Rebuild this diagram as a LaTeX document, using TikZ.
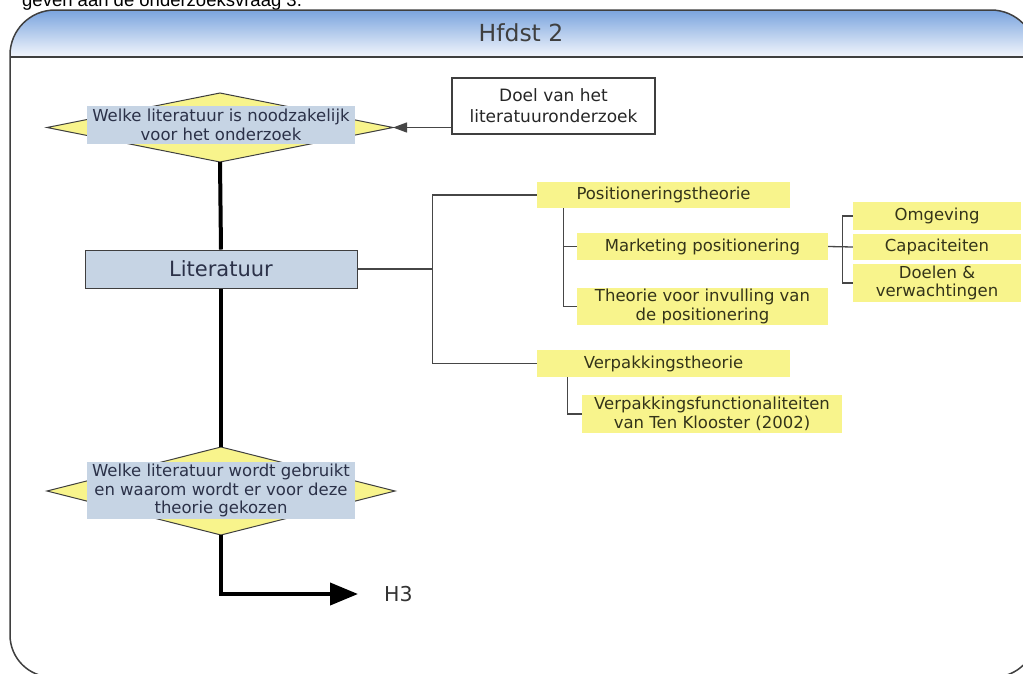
\documentclass[tikz,border=0pt]{standalone}
\usepackage{fontspec}
\setmainfont{DejaVu Sans}
\newfontfamily\pagefont{Liberation Sans}
\usetikzlibrary{shapes.geometric,arrows.meta,calc}
\definecolor{HfBlueTop}{HTML}{7AA4DE}
\definecolor{HfBlueMid}{HTML}{A9C3EA}
\definecolor{HfBlueBot}{HTML}{F3F6FC}
\definecolor{HfFrame}{HTML}{3F3F3F}
\definecolor{HfBox}{HTML}{C6D4E4}
\definecolor{HfYellow}{HTML}{F8F48C}
\definecolor{HfText}{HTML}{2B3148}
\definecolor{HfLeafText}{HTML}{34341A}
\definecolor{HfLine}{HTML}{464646}

\begin{document}
\begin{tikzpicture}[x=1pt,y=-1pt,
  question/.style={diamond,draw=HfFrame,line width=1pt,fill=HfYellow,inner sep=0pt,outer sep=0pt},
  qtext/.style={fill=HfBox,text=HfText,align=center,inner sep=0pt,font=\fontsize{16.5}{18.5}\selectfont},
  leaf/.style={fill=HfYellow,text=HfLeafText,align=center,inner sep=0pt,font=\fontsize{16.5}{18.5}\selectfont},
  tree/.style={HfLine,line width=1.3pt},
  spine/.style={black,line width=4pt}]
\path[use as bounding box] (0,0) rectangle (1023,673);
\node[anchor=base west,inner sep=0pt,font=\pagefont\fontsize{18.5}{22}\selectfont] (lead) at (22,6) {geven aan de onderzoeksvraag 3.};
% kader met kop
\shade[top color=HfBlueTop,middle color=HfBlueMid,bottom color=HfBlueBot]
  (10,57) -- (10,55) arc[start angle=180,end angle=270,radius=45] -- (991,10)
  arc[start angle=270,end angle=360,radius=45] -- (1036,57) -- cycle;
\draw[HfFrame,line width=1.5pt] (10,55) arc[start angle=180,end angle=270,radius=45] -- (991,10)
  arc[start angle=270,end angle=360,radius=45] -- (1036,635)
  arc[start angle=0,end angle=90,radius=42] -- (52,677)
  arc[start angle=90,end angle=180,radius=42] -- cycle;
\draw[HfFrame,line width=1.5pt] (10,57) -- (1036,57);
\node[text=HfFrame,font=\fontsize{23.5}{27}\selectfont] (title) at (521,33) {Hfdst 2};
% linker kolom
\node[question,minimum width=346pt,minimum height=69pt] (q1) at (220,127.5) {};
\node[qtext,minimum width=268pt,minimum height=38pt] (q1txt) at (221,125) {Welke literatuur is noodzakelijk\\voor het onderzoek};
\node[draw=HfFrame,line width=1.2pt,fill=white,text=black!85,align=center,inner sep=0pt,
  minimum width=203pt,minimum height=56pt,font=\fontsize{17}{21}\selectfont] (doel) at (553.5,106) {Doel van het\\literatuuronderzoek};
\node[draw=HfFrame,line width=1pt,fill=HfBox,text=HfText,minimum width=272pt,minimum height=38pt,
  font=\fontsize{21}{24}\selectfont] (lit) at (221,269) {Literatuur};
\node[question,minimum width=348pt,minimum height=88pt] (q2) at (221,491) {};
\node[qtext,minimum width=268pt,minimum height=57pt] (q2txt) at (221,490.5) {Welke literatuur wordt gebruikt\\en waarom wordt er voor deze\\theorie gekozen};
\node[anchor=west,inner sep=0pt,text=black!80,font=\fontsize{20.5}{24}\selectfont] (h3) at (384,594) {H3};
% theorieboom
\node[leaf,minimum width=253pt,minimum height=26pt] (pos) at (663.5,195) {Positioneringstheorie};
\node[leaf,minimum width=251pt,minimum height=27pt] (mark) at (702.5,246.5) {Marketing positionering};
\node[leaf,minimum width=251pt,minimum height=37pt] (theo) at (702.5,306.5) {Theorie voor invulling van\\de positionering};
\node[leaf,minimum width=168pt,minimum height=28pt] (omg) at (937,216) {Omgeving};
\node[leaf,minimum width=168pt,minimum height=26pt] (cap) at (937,247) {Capaciteiten};
\node[leaf,minimum width=168pt,minimum height=38pt] (doelen) at (937,283) {Doelen \&\\verwachtingen};
\node[leaf,minimum width=253pt,minimum height=27pt] (verp) at (663.5,363.5) {Verpakkingstheorie};
\node[leaf,minimum width=260pt,minimum height=38pt] (vpf) at (712,414) {Verpakkingsfunctionaliteiten\\van Ten Klooster (2002)};
% verbindingen
\draw[tree,-{Triangle[length=14pt,width=10pt]}] (doel.west |- q1.east) -- (q1.east);
\draw[spine] (q1.south) -- (lit.north);
\draw[spine] (lit.south) -- (q2.north);
\draw[spine,-{Triangle[length=28pt,width=22pt]},shorten >=26pt] (q2.south) |- (h3.west);
\coordinate (litfork) at ($(lit.east)+(75,0)$);
\draw[tree] (lit.east) -- (litfork);
\draw[tree] (pos.west) -| (litfork) |- (verp.west);
\coordinate (posfork) at ($(pos.south west)+(27,0)$);
\draw[tree] (posfork) |- (theo.west);
\draw[tree] (mark.west) -- (mark.west -| posfork);
\coordinate (verpfork) at ($(verp.south west)+(31,0)$);
\draw[tree] (verpfork) |- (vpf.west);
\coordinate (markfork) at ($(mark.east)+(14,0)$);
\draw[tree] (mark.east) -- (cap.west);
\draw[tree] (omg.west) -| (markfork) |- (doelen.west);
\end{tikzpicture}
\end{document}
